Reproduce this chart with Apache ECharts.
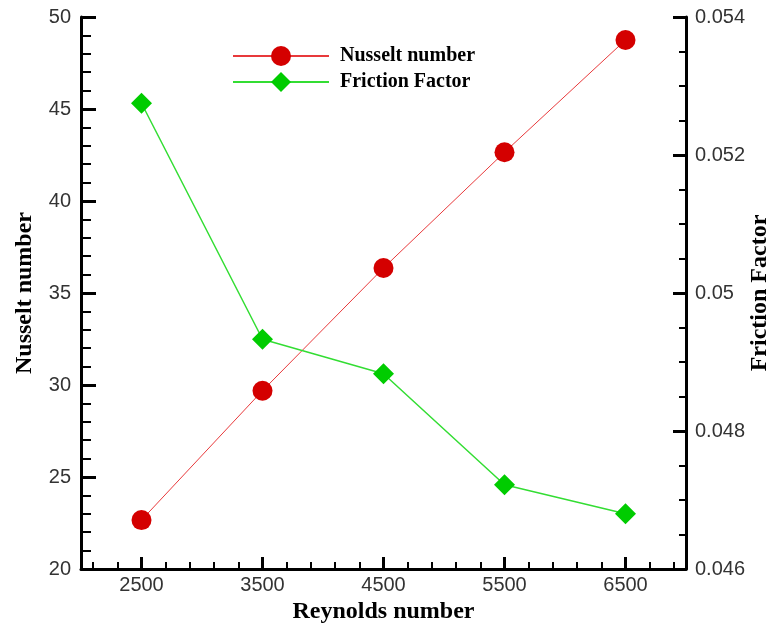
<!DOCTYPE html>
<html>
<head>
<meta charset="utf-8">
<script src="https://cdn.jsdelivr.net/npm/echarts@6/dist/echarts.min.js"></script>
<style>
  html, body { margin: 0; padding: 0; background: #fff; }
  #chart { width: 771px; height: 624px; }
</style>
</head>
<body>
<div id="chart"></div>
<script>
let reynolds = [2500, 3500, 4500, 5500, 6500];
let nusselt = [22.66, 29.69, 36.36, 42.65, 48.75];
let friction = [0.05275, 0.04933, 0.04883, 0.04722, 0.04680];
let xMajorTicks = [2500, 3500, 4500, 5500, 6500];
let xMinorTicks = [2100, 2300, 2700, 2900, 3100, 3300, 3700, 3900, 4100, 4300,
                   4700, 4900, 5100, 5300, 5700, 5900, 6100, 6300, 6700, 6900];

let myChart = echarts.init(document.getElementById('chart'));

let labelFont = {
    fontFamily: 'Liberation Sans',
    fontSize: 20,
    color: '#333'
};
let titleFont = {
    fontFamily: 'Liberation Serif',
    fontWeight: 'bold',
    fontSize: 24,
    color: '#000'
};
let axisLine = { show: true, onZero: false, lineStyle: { color: '#000', width: 3 } };

let option = {
    animation: false,
    grid: { left: 81, right: 85, top: 17, bottom: 55, outerBoundsMode: 'none', containLabel: false },
    legend: {
        orient: 'vertical',
        left: 227,
        top: 41,
        itemWidth: 96,
        itemHeight: 25,
        itemGap: 6,
        textStyle: {
            fontFamily: 'Liberation Serif',
            fontWeight: 'bold',
            fontSize: 20,
            color: '#000',
            padding: [0, 0, 0, 6]
        },
        data: ['Nusselt number', 'Friction Factor']
    },
    xAxis: [
        {
            type: 'value',
            min: 2000,
            max: 7000,
            name: 'Reynolds number',
            nameLocation: 'middle',
            nameGap: 31,
            nameMoveOverlap: false,
            nameTextStyle: titleFont,
            axisLine: axisLine,
            axisTick: {
                inside: true, length: 12,
                customValues: xMajorTicks,
                lineStyle: { color: '#000', width: 3 }
            },
            axisLabel: Object.assign({
                margin: 6,
                customValues: xMajorTicks,
                formatter: v => String(v)
            }, labelFont),
            splitLine: { show: false }
        },
        {
            type: 'value',
            min: 2000,
            max: 7000,
            position: 'bottom',
            axisLine: { show: false },
            axisTick: {
                inside: true, length: 7,
                customValues: xMinorTicks,
                lineStyle: { color: '#000', width: 2 }
            },
            axisLabel: { show: false },
            splitLine: { show: false }
        }
    ],
    yAxis: [
        {
            type: 'value',
            min: 20,
            max: 50,
            interval: 5,
            name: 'Nusselt number',
            nameLocation: 'middle',
            nameGap: 44,
            nameRotate: 90,
            nameMoveOverlap: false,
            nameTextStyle: titleFont,
            axisLine: axisLine,
            axisTick: { inside: true, length: 15, lineStyle: { color: '#000', width: 3 } },
            minorTick: { show: true, splitNumber: 5, length: 10, lineStyle: { color: '#000', width: 2 } },
            axisLabel: Object.assign({ margin: 10 }, labelFont),
            splitLine: { show: false }
        },
        {
            type: 'value',
            min: 0.046,
            max: 0.054,
            interval: 0.002,
            position: 'right',
            name: 'Friction Factor',
            nameLocation: 'middle',
            nameGap: 62,
            nameRotate: 90,
            nameMoveOverlap: false,
            nameTextStyle: titleFont,
            axisLine: axisLine,
            axisTick: { inside: true, length: 13, lineStyle: { color: '#000', width: 3 } },
            minorTick: { show: true, splitNumber: 4, length: 7, lineStyle: { color: '#000', width: 2 } },
            axisLabel: Object.assign({ margin: 9 }, labelFont),
            splitLine: { show: false }
        }
    ],
    series: [
        {
            name: 'Nusselt number',
            type: 'line',
            xAxisIndex: 0,
            yAxisIndex: 0,
            symbol: 'circle',
            symbolSize: 20,
            lineStyle: { color: '#e8393b', width: 1 },
            itemStyle: { color: '#d40000' },
            data: reynolds.map((r, i) => [r, nusselt[i]])
        },
        {
            name: 'Friction Factor',
            type: 'line',
            xAxisIndex: 0,
            yAxisIndex: 1,
            symbol: 'diamond',
            symbolSize: 21,
            lineStyle: { color: '#33dd33', width: 1.5 },
            itemStyle: { color: '#00cc00' },
            data: reynolds.map((r, i) => [r, friction[i]])
        }
    ]
};

myChart.setOption(option);
</script>
</body>
</html>
